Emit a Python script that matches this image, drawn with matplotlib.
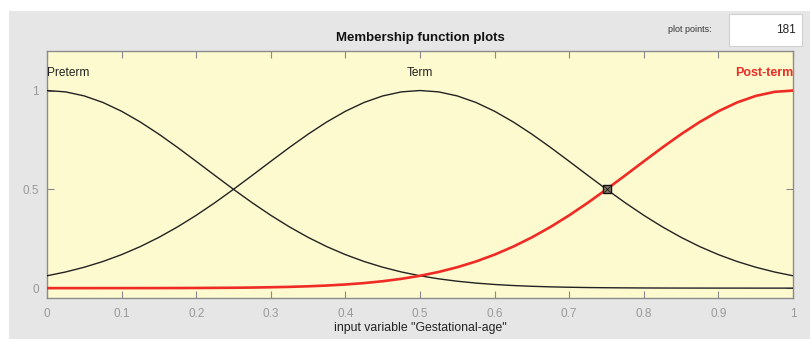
import matplotlib
matplotlib.use("Agg")
import matplotlib.pyplot as plt
from matplotlib.patches import Rectangle

x_values = [i * 0.025 for i in range(41)]
preterm = [1.0000, 0.9931, 0.9726, 0.9395, 0.8950, 0.8408, 0.7791, 0.7120, 0.6416, 0.5703,
           0.5000, 0.4322, 0.3684, 0.3098, 0.2569, 0.2101, 0.1695, 0.1348, 0.1058, 0.0818,
           0.0624, 0.0470, 0.0349, 0.0255, 0.0184, 0.0131, 0.0092, 0.0064, 0.0044, 0.0029,
           0.0019, 0.0013, 0.0008, 0.0005, 0.0003, 0.0002, 0.0001, 0.0001, 0.0000, 0.0000,
           0.0000]
term = [0.0624, 0.0818, 0.1058, 0.1348, 0.1695, 0.2101, 0.2569, 0.3098, 0.3684, 0.4322,
        0.5000, 0.5703, 0.6416, 0.7120, 0.7791, 0.8408, 0.8950, 0.9395, 0.9726, 0.9931,
        1.0000, 0.9931, 0.9726, 0.9395, 0.8950, 0.8408, 0.7791, 0.7120, 0.6416, 0.5703,
        0.5000, 0.4322, 0.3684, 0.3098, 0.2569, 0.2101, 0.1695, 0.1348, 0.1058, 0.0818,
        0.0624]
post_term = [0.0000, 0.0000, 0.0000, 0.0001, 0.0001, 0.0002, 0.0003, 0.0005, 0.0008, 0.0013,
             0.0019, 0.0029, 0.0044, 0.0064, 0.0092, 0.0131, 0.0184, 0.0255, 0.0349, 0.0470,
             0.0624, 0.0818, 0.1058, 0.1348, 0.1695, 0.2101, 0.2569, 0.3098, 0.3684, 0.4322,
             0.5000, 0.5703, 0.6416, 0.7120, 0.7791, 0.8408, 0.8950, 0.9395, 0.9726, 0.9931,
             1.0000]
mf_names = ["Preterm", "Term", "Post-term"]
mf_label_x = [0.0, 0.5, 1.0]
marker_point = (0.75, 0.5)
x_ticks = [0, 0.1, 0.2, 0.3, 0.4, 0.5, 0.6, 0.7, 0.8, 0.9, 1]
x_tick_labels = ["0", "0.1", "0.2", "0.3", "0.4", "0.5", "0.6", "0.7", "0.8", "0.9", "1"]
y_ticks = [0, 0.5, 1]
y_tick_labels = ["0", "0.5", "1"]
plot_points = "181"

plt.rcParams['font.family'] = ['Liberation Sans', 'DejaVu Sans']

fig = plt.figure(figsize=(8.10, 3.39), dpi=100)
fig.patch.set_facecolor("white")
# grey panel
fig.add_artist(Rectangle((9 / 810, 0), 1 - 9 / 810, 1 - 11 / 339, transform=fig.transFigure,
                         facecolor="#e6e6e6", edgecolor="none", zorder=0))
# plot points box
fig.add_artist(Rectangle((729 / 810, 1 - 46 / 339), 73 / 810, 32 / 339, transform=fig.transFigure,
                         facecolor="white", edgecolor="#d0d0d0", lw=0.8, zorder=1))
fig.text(690 / 810, 1 - 29 / 339, "plot points:", fontsize=6.5, color="#333333",
         ha="center", va="center")
fig.text(796 / 810, 1 - 30 / 339, plot_points, fontsize=8.5, color="#222222",
         ha="right", va="center")

ax = fig.add_axes([47 / 810, 41 / 339, 746 / 810, 247 / 339])
ax.set_facecolor("#fefacf")

ax.plot(x_values, preterm, color="#222222", lw=1.0, zorder=3)
ax.plot(x_values, term, color="#222222", lw=1.0, zorder=3)
ax.plot(x_values, post_term, color="#ee2b24", lw=1.9, zorder=4)
ax.plot([marker_point[0]], [marker_point[1]], marker="s", ms=6, mfc="#8a7f6a", mec="#111111",
        mew=1.0, zorder=5)
ax.plot([marker_point[0]], [marker_point[1]], marker="x", ms=4, mec="#111111",
        mew=0.6, zorder=6)

ax.text(mf_label_x[0], 1.09, mf_names[0], ha="left", va="center", fontsize=8.6, color="#222222")
ax.text(mf_label_x[1], 1.09, mf_names[1], ha="center", va="center", fontsize=8.6, color="#222222")
ax.text(mf_label_x[2], 1.09, mf_names[2], ha="right", va="center", fontsize=9,
        color="#ee2b24", fontweight="bold")

ax.set_xlim(0, 1)
ax.set_ylim(-0.05, 1.2)
ax.set_xticks(x_ticks)
ax.set_xticklabels(x_tick_labels)
ax.set_yticks(y_ticks)
ax.set_yticklabels(y_tick_labels)
ax.tick_params(axis="both", direction="in", length=5, width=0.8, color="#888888",
               labelcolor="#999999", labelsize=8.5, top=True, right=True)
ax.tick_params(axis="x", pad=7)
ax.tick_params(axis="y", pad=6)
for s in ax.spines.values():
    s.set_color("#8c8c8c")
    s.set_linewidth(1.0)

fig.text(420 / 810, 1 - 38 / 339, "Membership function plots", fontsize=9.5, fontweight="bold",
         ha="center", va="center", color="#111111")
fig.text(420 / 810, 1 - 328 / 339, 'input variable "Gestational-age"', fontsize=8.8,
         ha="center", va="center", color="#222222")

fig.savefig("out.png", dpi=100)
